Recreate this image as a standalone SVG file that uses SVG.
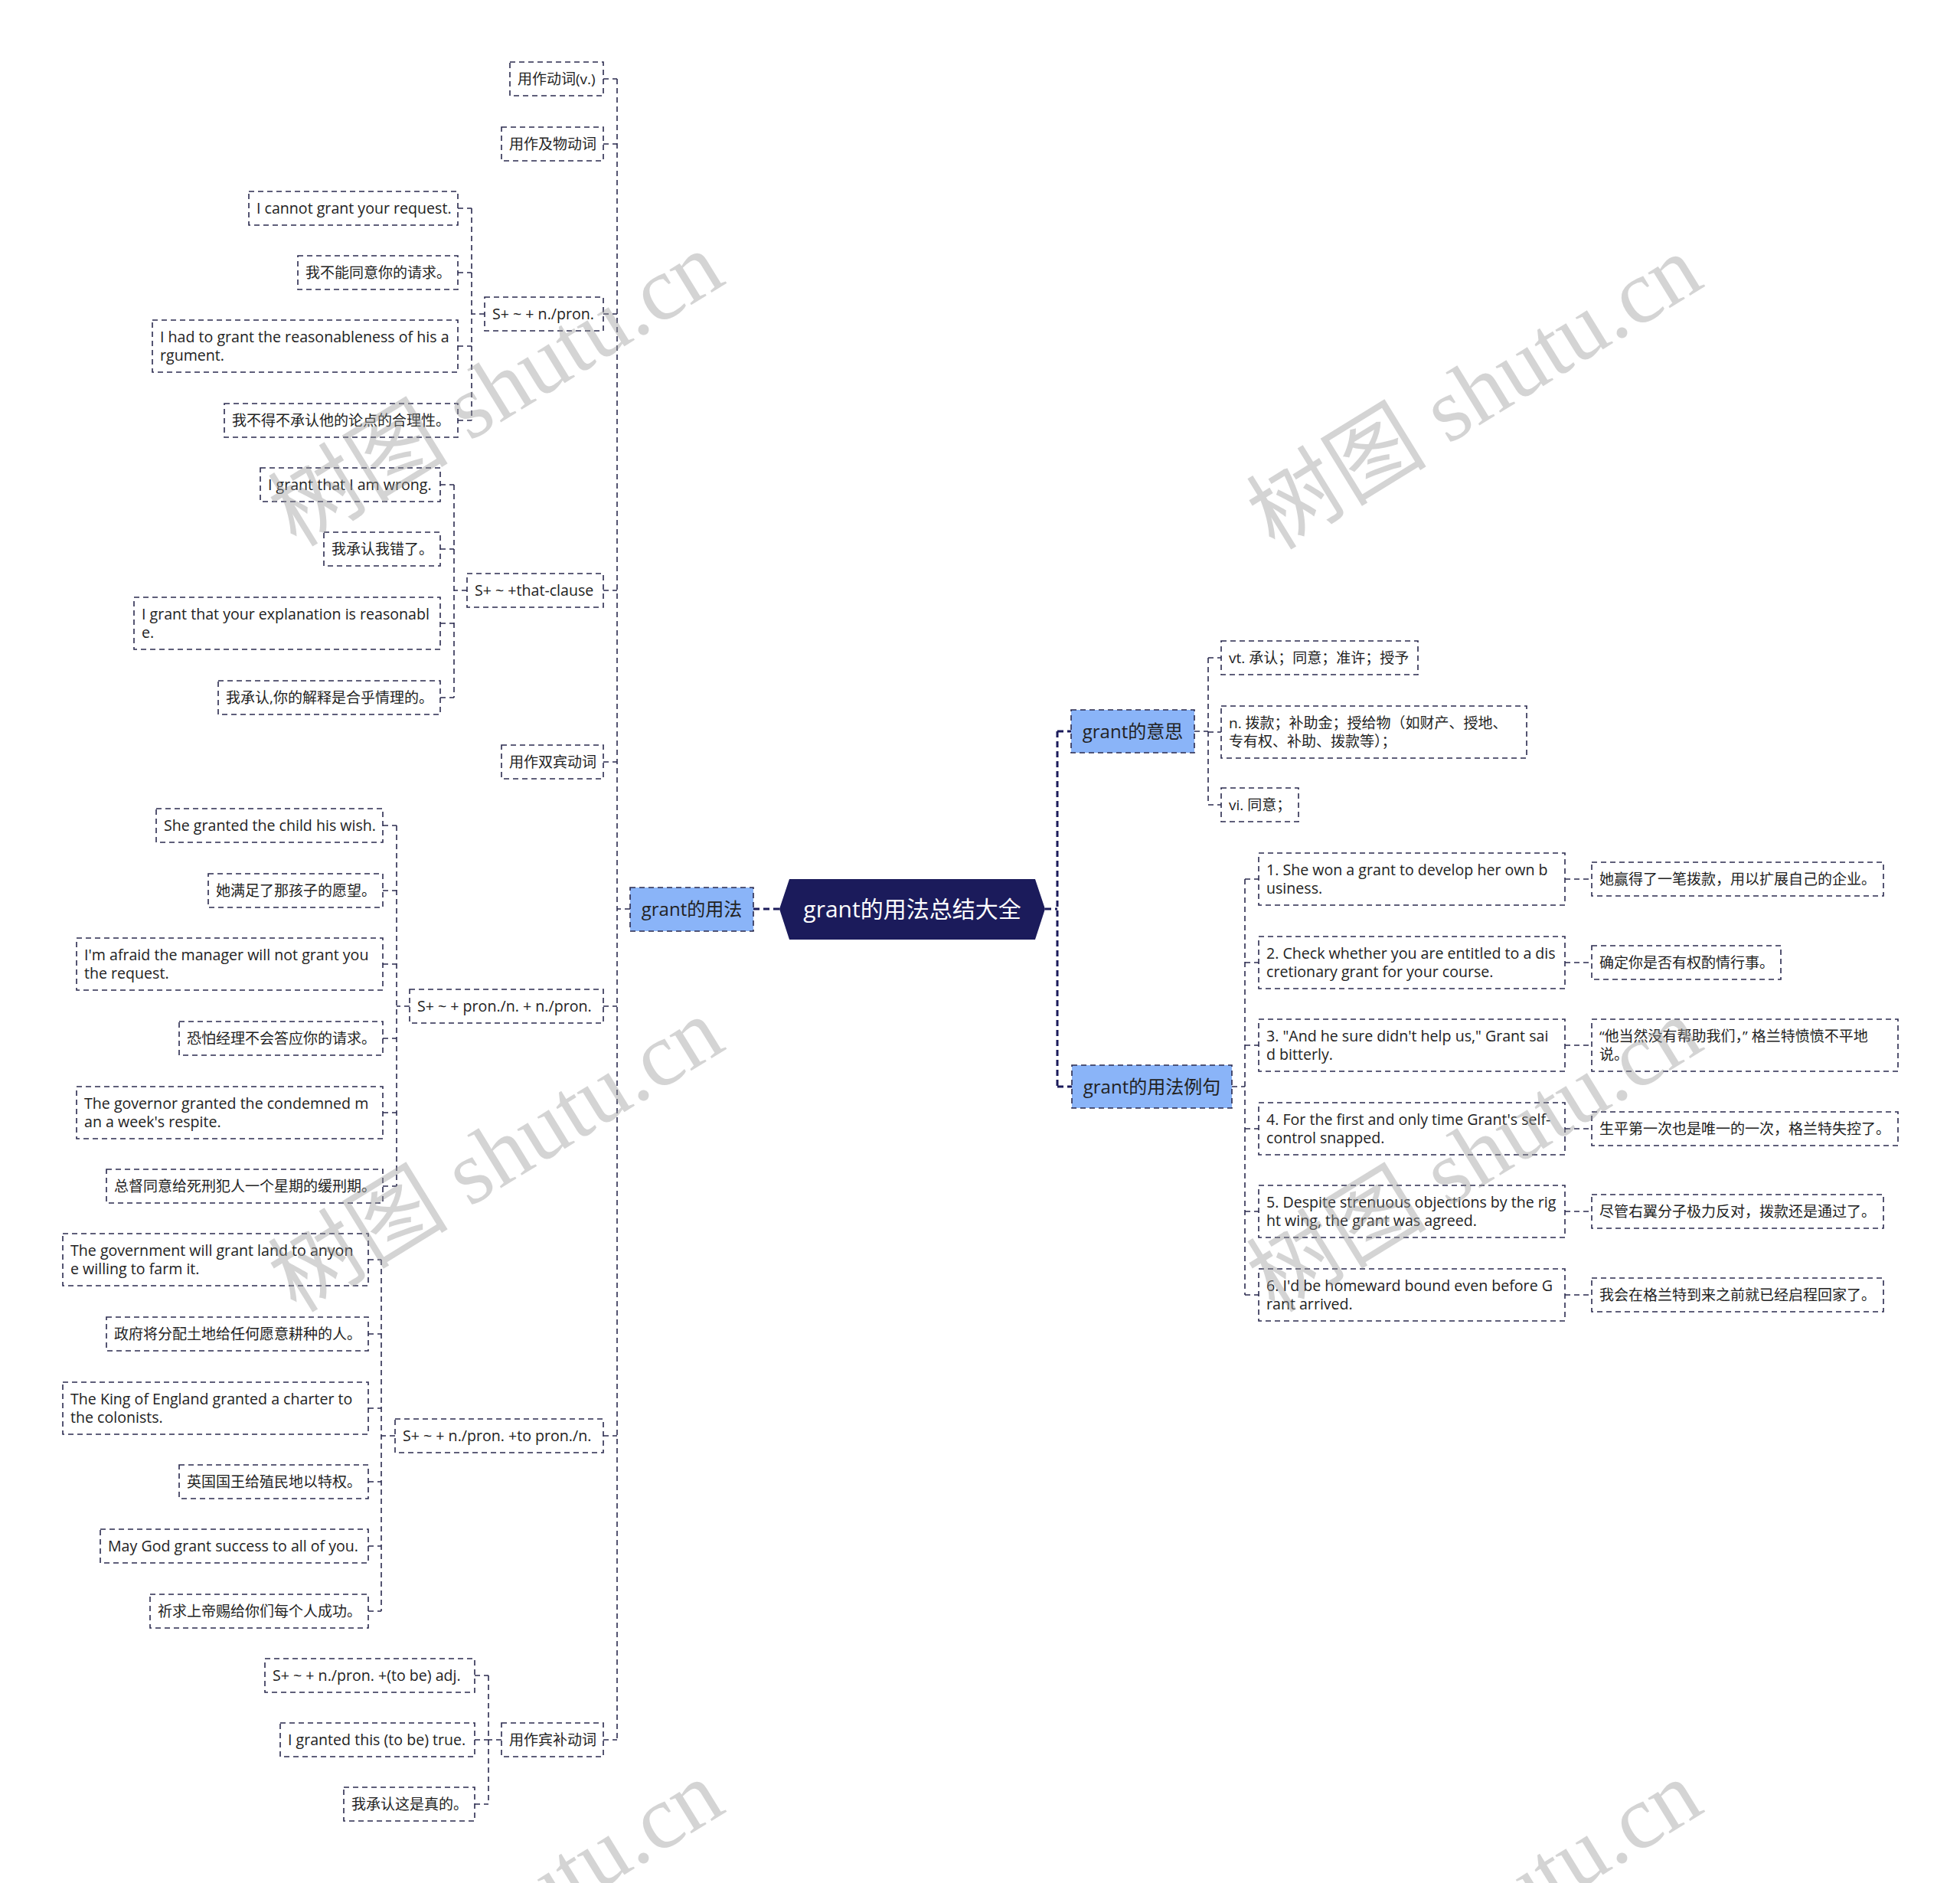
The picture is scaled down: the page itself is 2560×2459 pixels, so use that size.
<svg xmlns="http://www.w3.org/2000/svg" width="2560" height="2459" viewBox="0 0 2560 2459">
<style>
.box{fill:#ffffff;stroke:#2b2b4f;stroke-width:1.6;stroke-dasharray:7 5}
.l1{fill:#8ab4f8;stroke:#2b2b4f;stroke-width:1.6;stroke-dasharray:7 5}
.t{font-family:"Open Sans","Noto Sans CJK SC",sans-serif;font-size:19px;fill:#222222}
.e{font-size:19.6px}
.t1{font-family:"Open Sans","Noto Sans CJK SC",sans-serif;font-size:24px;fill:#222222;text-anchor:middle}
.t0{font-family:"Open Sans","Noto Sans CJK SC",sans-serif;font-size:30px;fill:#ffffff;text-anchor:middle}
.c{fill:none;stroke:#2b2b4f;stroke-width:1.6;stroke-dasharray:7 5}
.cm{fill:none;stroke:#1b1b5b;stroke-width:3;stroke-dasharray:8 5}
.wm{font-family:"Liberation Serif","Noto Sans CJK SC",serif;font-size:118px;fill:#9a9a9a;opacity:0.42;text-anchor:middle}
</style>
<rect width="2560" height="2459" fill="#ffffff"/>
<g id="connectors">
<path class="cm" d="M984 1187 H1018"/>
<path class="cm" d="M1365 1187 H1381 M1381 955 V1419 M1381 955 H1399 M1381 1419 H1400"/>
<path class="c" d="M823 1187 H806 M806 103 V2272 M788 103 H806 M788 188 H806 M788 410 H806 M788 771 H806 M788 995 H806 M788 1314 H806 M788 1875 H806 M788 2272 H806"/>
<path class="c" d="M633 410 H616 M616 272 V549 M598 272 H616 M598 356 H616 M598 452 H616 M598 549 H616"/>
<path class="c" d="M610 771 H593 M593 633 V911 M575 633 H593 M575 717 H593 M575 814 H593 M575 911 H593"/>
<path class="c" d="M535 1314 H518 M518 1078 V1549 M500 1078 H518 M500 1163 H518 M500 1259 H518 M500 1356 H518 M500 1453 H518 M500 1549 H518"/>
<path class="c" d="M516 1875 H498 M498 1645 V2104 M481 1645 H498 M481 1742 H498 M481 1839 H498 M481 1935 H498 M481 2019 H498 M481 2104 H498"/>
<path class="c" d="M655 2272 H638 M638 2188 V2356 M620 2188 H638 M620 2272 H638 M620 2356 H638"/>
<path class="c" d="M1560 955 H1578 M1578 859 V1051 M1578 859 H1595 M1578 956 H1595 M1578 1051 H1595"/>
<path class="c" d="M1609 1419 H1626 M1626 1148 V1691 M1626 1148 H1644 M1626 1257 H1644 M1626 1365 H1644 M1626 1474 H1644 M1626 1582 H1644 M1626 1691 H1644"/>
<path class="c" d="M2044 1148 H2079 M2044 1257 H2079 M2044 1365 H2079 M2044 1474 H2079 M2044 1582 H2079 M2044 1691 H2079"/>
</g>
<g id="root">
<polygon points="1018,1187 1031,1148 1352,1148 1365,1187 1352,1227 1031,1227" fill="#1b1b5b"/>
<text class="t0" x="1191.5" y="1198">grant的用法总结大全</text>
</g>
<g id="n-usage"><rect class="l1" x="823" y="1159" width="161" height="57"/><text class="t1" x="903.5" y="1196">grant的用法</text></g>
<g id="n-meaning"><rect class="l1" x="1399" y="927" width="161" height="56"/><text class="t1" x="1479.5" y="964">grant的意思</text></g>
<g id="n-examples"><rect class="l1" x="1400" y="1391" width="209" height="56"/><text class="t1" x="1504.5" y="1428">grant的用法例句</text></g>

<g id="n-a"><rect class="box" x="666" y="81" width="122" height="44"/><text class="t" x="676" y="110">用作动词(v.)</text></g>
<g id="n-b"><rect class="box" x="655" y="166" width="133" height="44"/><text class="t" x="665" y="195">用作及物动词</text></g>
<g id="n-c"><rect class="box" x="633" y="388" width="155" height="44"/><text class="t e" x="643" y="417">S+ ~ + n./pron.</text></g>
<g id="n-d"><rect class="box" x="610" y="749" width="178" height="44"/><text class="t e" x="620" y="778">S+ ~ +that-clause</text></g>
<g id="n-e"><rect class="box" x="655" y="973" width="133" height="44"/><text class="t" x="665" y="1002">用作双宾动词</text></g>
<g id="n-f"><rect class="box" x="535" y="1292" width="253" height="44"/><text class="t e" x="545" y="1321">S+ ~ + pron./n. + n./pron.</text></g>
<g id="n-g"><rect class="box" x="516" y="1853" width="272" height="44"/><text class="t e" x="526" y="1882">S+ ~ + n./pron. +to pron./n.</text></g>
<g id="n-h"><rect class="box" x="655" y="2250" width="133" height="44"/><text class="t" x="665" y="2279">用作宾补动词</text></g>

<g id="n-c1"><rect class="box" x="325" y="250" width="273" height="44"/><text class="t e" x="335" y="279">I cannot grant your request.</text></g>
<g id="n-c2"><rect class="box" x="389" y="334" width="209" height="44"/><text class="t" x="399" y="363">我不能同意你的请求。</text></g>
<g id="n-c3"><rect class="box" x="199" y="418" width="399" height="68"/><text class="t e" x="209" y="447">I had to grant the reasonableness of his a</text><text class="t e" x="209" y="471">rgument.</text></g>
<g id="n-c4"><rect class="box" x="293" y="527" width="305" height="44"/><text class="t" x="303" y="556">我不得不承认他的论点的合理性。</text></g>

<g id="n-d1"><rect class="box" x="340" y="611" width="235" height="44"/><text class="t e" x="350" y="640">I grant that I am wrong.</text></g>
<g id="n-d2"><rect class="box" x="423" y="695" width="152" height="44"/><text class="t" x="433" y="724">我承认我错了。</text></g>
<g id="n-d3"><rect class="box" x="175" y="780" width="400" height="68"/><text class="t e" x="185" y="809">I grant that your explanation is reasonabl</text><text class="t e" x="185" y="833">e.</text></g>
<g id="n-d4"><rect class="box" x="285" y="889" width="290" height="44"/><text class="t" x="295" y="918">我承认,你的解释是合乎情理的。</text></g>

<g id="n-f1"><rect class="box" x="204" y="1056" width="296" height="44"/><text class="t e" x="214" y="1085">She granted the child his wish.</text></g>
<g id="n-f2"><rect class="box" x="272" y="1141" width="228" height="44"/><text class="t" x="282" y="1170">她满足了那孩子的愿望。</text></g>
<g id="n-f3"><rect class="box" x="100" y="1225" width="400" height="68"/><text class="t e" x="110" y="1254">I'm afraid the manager will not grant you</text><text class="t e" x="110" y="1278">the request.</text></g>
<g id="n-f4"><rect class="box" x="234" y="1334" width="266" height="44"/><text class="t" x="244" y="1363">恐怕经理不会答应你的请求。</text></g>
<g id="n-f5"><rect class="box" x="100" y="1419" width="400" height="68"/><text class="t e" x="110" y="1448">The governor granted the condemned m</text><text class="t e" x="110" y="1472">an a week's respite.</text></g>
<g id="n-f6"><rect class="box" x="139" y="1527" width="361" height="44"/><text class="t" x="149" y="1556">总督同意给死刑犯人一个星期的缓刑期。</text></g>

<g id="n-g1"><rect class="box" x="82" y="1611" width="399" height="68"/><text class="t e" x="92" y="1640">The government will grant land to anyon</text><text class="t e" x="92" y="1664">e willing to farm it.</text></g>
<g id="n-g2"><rect class="box" x="139" y="1720" width="342" height="44"/><text class="t" x="149" y="1749">政府将分配土地给任何愿意耕种的人。</text></g>
<g id="n-g3"><rect class="box" x="82" y="1805" width="399" height="68"/><text class="t e" x="92" y="1834">The King of England granted a charter to</text><text class="t e" x="92" y="1858">the colonists.</text></g>
<g id="n-g4"><rect class="box" x="234" y="1913" width="247" height="44"/><text class="t" x="244" y="1942">英国国王给殖民地以特权。</text></g>
<g id="n-g5"><rect class="box" x="131" y="1997" width="350" height="44"/><text class="t e" x="141" y="2026">May God grant success to all of you.</text></g>
<g id="n-g6"><rect class="box" x="196" y="2082" width="285" height="44"/><text class="t" x="206" y="2111">祈求上帝赐给你们每个人成功。</text></g>

<g id="n-h1"><rect class="box" x="346" y="2166" width="274" height="44"/><text class="t e" x="356" y="2195">S+ ~ + n./pron. +(to be) adj.</text></g>
<g id="n-h2"><rect class="box" x="366" y="2250" width="254" height="44"/><text class="t e" x="376" y="2279">I granted this (to be) true.</text></g>
<g id="n-h3"><rect class="box" x="449" y="2334" width="171" height="44"/><text class="t" x="459" y="2363">我承认这是真的。</text></g>

<g id="n-m1"><rect class="box" x="1595" y="837" width="257" height="44"/><text class="t" x="1605" y="866">vt. 承认；同意；准许；授予</text></g>
<g id="n-m2"><rect class="box" x="1595" y="922" width="399" height="68"/><text class="t" x="1605" y="951">n. 拨款；补助金；授给物（如财产、授地、</text><text class="t" x="1605" y="975">专有权、补助、拨款等）；</text></g>
<g id="n-m3"><rect class="box" x="1595" y="1029" width="101" height="44"/><text class="t" x="1605" y="1058">vi. 同意；</text></g>

<g id="n-e1"><rect class="box" x="1644" y="1114" width="400" height="68"/><text class="t e" x="1654" y="1143">1. She won a grant to develop her own b</text><text class="t e" x="1654" y="1167">usiness.</text></g>
<g id="n-e2"><rect class="box" x="1644" y="1223" width="400" height="68"/><text class="t e" x="1654" y="1252">2. Check whether you are entitled to a dis</text><text class="t e" x="1654" y="1276">cretionary grant for your course.</text></g>
<g id="n-e3"><rect class="box" x="1644" y="1331" width="400" height="68"/><text class="t e" x="1654" y="1360">3. "And he sure didn't help us," Grant sai</text><text class="t e" x="1654" y="1384">d bitterly.</text></g>
<g id="n-e4"><rect class="box" x="1644" y="1440" width="400" height="68"/><text class="t e" x="1654" y="1469">4. For the first and only time Grant's self-</text><text class="t e" x="1654" y="1493">control snapped.</text></g>
<g id="n-e5"><rect class="box" x="1644" y="1548" width="400" height="68"/><text class="t e" x="1654" y="1577">5. Despite strenuous objections by the rig</text><text class="t e" x="1654" y="1601">ht wing, the grant was agreed.</text></g>
<g id="n-e6"><rect class="box" x="1644" y="1657" width="400" height="68"/><text class="t e" x="1654" y="1686">6. I'd be homeward bound even before G</text><text class="t e" x="1654" y="1710">rant arrived.</text></g>

<g id="n-t1"><rect class="box" x="2079" y="1126" width="381" height="44"/><text class="t" x="2089" y="1155">她赢得了一笔拨款，用以扩展自己的企业。</text></g>
<g id="n-t2"><rect class="box" x="2079" y="1235" width="247" height="44"/><text class="t" x="2089" y="1264">确定你是否有权酌情行事。</text></g>
<g id="n-t3"><rect class="box" x="2079" y="1331" width="400" height="68"/><text class="t" x="2089" y="1360">“他当然没有帮助我们，” 格兰特愤愤不平地</text><text class="t" x="2089" y="1384">说。</text></g>
<g id="n-t4"><rect class="box" x="2079" y="1452" width="400" height="44"/><text class="t" x="2089" y="1481">生平第一次也是唯一的一次，格兰特失控了。</text></g>
<g id="n-t5"><rect class="box" x="2079" y="1560" width="381" height="44"/><text class="t" x="2089" y="1589">尽管右翼分子极力反对，拨款还是通过了。</text></g>
<g id="n-t6"><rect class="box" x="2079" y="1669" width="381" height="44"/><text class="t" x="2089" y="1698">我会在格兰特到来之前就已经启程回家了。</text></g>

<g id="watermark">
<text class="wm" x="649" y="548" transform="rotate(-31.6 649 510)">树图 shutu.cn</text>
<text class="wm" x="1927" y="552" transform="rotate(-31.6 1927 514)">树图 shutu.cn</text>
<text class="wm" x="649" y="1548" transform="rotate(-31.6 649 1510)">树图 shutu.cn</text>
<text class="wm" x="1927" y="1548" transform="rotate(-31.6 1927 1510)">树图 shutu.cn</text>
<text class="wm" x="649" y="2544" transform="rotate(-31.6 649 2506)">树图 shutu.cn</text>
<text class="wm" x="1927" y="2544" transform="rotate(-31.6 1927 2506)">树图 shutu.cn</text>
</g>
</svg>
